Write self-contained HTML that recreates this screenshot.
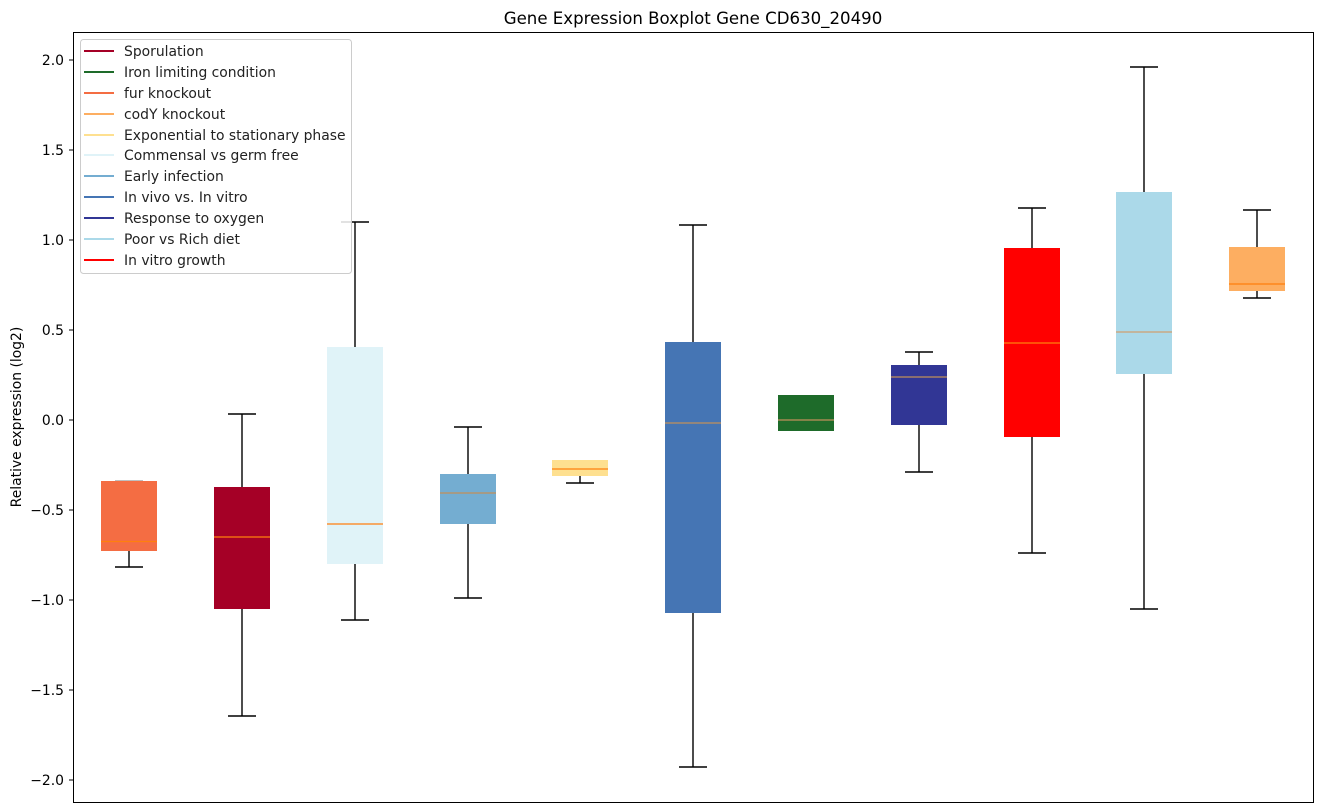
<!DOCTYPE html>
<html><head><meta charset="utf-8"><style>
html,body{margin:0;padding:0;background:#fff;}
svg{display:block;font-family:"DejaVu Sans","Liberation Sans",sans-serif;}
</style></head><body>
<svg width="1322" height="812" viewBox="0 0 1322 812" xmlns="http://www.w3.org/2000/svg">
<rect width="1322" height="812" fill="#fff"/>
<text x="693" y="24" font-size="16.6" text-anchor="middle" fill="#000">Gene Expression Boxplot Gene CD630_20490</text>
<text transform="translate(21,417) rotate(-90)" font-size="13.9" text-anchor="middle" fill="#000">Relative expression (log2)</text>
<g font-size="13.9" fill="#000" text-anchor="end">
<text x="64" y="65">2.0</text>
<text x="64" y="155">1.5</text>
<text x="64" y="245">1.0</text>
<text x="64" y="335">0.5</text>
<text x="64" y="425">0.0</text>
<text x="64" y="515">−0.5</text>
<text x="64" y="605">−1.0</text>
<text x="64" y="695">−1.5</text>
<text x="64" y="785">−2.0</text>
</g>
<g stroke="#000" stroke-width="1">
<line x1="69" y1="60" x2="73" y2="60"/><line x1="69" y1="150" x2="73" y2="150"/><line x1="69" y1="240" x2="73" y2="240"/><line x1="69" y1="330" x2="73" y2="330"/><line x1="69" y1="420" x2="73" y2="420"/><line x1="69" y1="510" x2="73" y2="510"/><line x1="69" y1="600" x2="73" y2="600"/><line x1="69" y1="690" x2="73" y2="690"/><line x1="69" y1="780" x2="73" y2="780"/>
</g>
<g stroke="#000" stroke-width="1.4">
<line x1="129" y1="551" x2="129" y2="567"/><line x1="115" y1="567" x2="143" y2="567"/><line x1="115" y1="481" x2="143" y2="481" stroke="#aaa"/>
<line x1="242" y1="414" x2="242" y2="487"/><line x1="242" y1="609" x2="242" y2="716"/><line x1="228" y1="414" x2="256" y2="414"/><line x1="228" y1="716" x2="256" y2="716"/>
<line x1="355" y1="222" x2="355" y2="347"/><line x1="355" y1="564" x2="355" y2="620"/><line x1="341" y1="222" x2="369" y2="222"/><line x1="341" y1="620" x2="369" y2="620"/>
<line x1="468" y1="427" x2="468" y2="474"/><line x1="468" y1="524" x2="468" y2="598"/><line x1="454" y1="427" x2="482" y2="427"/><line x1="454" y1="598" x2="482" y2="598"/>
<line x1="580" y1="476" x2="580" y2="483"/><line x1="566" y1="483" x2="594" y2="483"/>
<line x1="693" y1="225" x2="693" y2="342"/><line x1="693" y1="613" x2="693" y2="767"/><line x1="679" y1="225" x2="707" y2="225"/><line x1="679" y1="767" x2="707" y2="767"/>
<line x1="919" y1="352" x2="919" y2="365"/><line x1="919" y1="425" x2="919" y2="472"/><line x1="905" y1="352" x2="933" y2="352"/><line x1="905" y1="472" x2="933" y2="472"/>
<line x1="1032" y1="208" x2="1032" y2="248"/><line x1="1032" y1="437" x2="1032" y2="553"/><line x1="1018" y1="208" x2="1046" y2="208"/><line x1="1018" y1="553" x2="1046" y2="553"/>
<line x1="1144" y1="67" x2="1144" y2="192"/><line x1="1144" y1="374" x2="1144" y2="609"/><line x1="1130" y1="67" x2="1158" y2="67"/><line x1="1130" y1="609" x2="1158" y2="609"/>
<line x1="1257" y1="210" x2="1257" y2="247"/><line x1="1257" y1="291" x2="1257" y2="298"/><line x1="1243" y1="210" x2="1271" y2="210"/><line x1="1243" y1="298" x2="1271" y2="298"/>
</g>
<g>
<rect x="101" y="481" width="56" height="70" fill="#f46d43"/>
<rect x="214" y="487" width="56" height="122" fill="#a50026"/>
<rect x="327" y="347" width="56" height="217" fill="#e0f3f8"/>
<rect x="440" y="474" width="56" height="50" fill="#74add1"/>
<rect x="552" y="460" width="56" height="16" fill="#fee090"/>
<rect x="665" y="342" width="56" height="271" fill="#4575b4"/>
<rect x="778" y="395" width="56" height="36" fill="#1e6b2a"/>
<rect x="891" y="365" width="56" height="60" fill="#313695"/>
<rect x="1004" y="248" width="56" height="189" fill="#ff0000"/>
<rect x="1116" y="192" width="56" height="182" fill="#abd9e9"/>
<rect x="1229" y="247" width="56" height="44" fill="#fdae61"/>
</g>
<g stroke-width="1.2">
<line x1="101" y1="541.5" x2="157" y2="541.5" stroke="#ff7f0e"/>
<line x1="214" y1="537" x2="270" y2="537" stroke="#ff7f0e"/>
<line x1="327" y1="524" x2="383" y2="524" stroke="#ff7f0e"/>
<line x1="440" y1="493" x2="496" y2="493" stroke="#c0905a"/>
<line x1="552" y1="469" x2="608" y2="469" stroke="#ff7f0e"/>
<line x1="665" y1="423" x2="721" y2="423" stroke="#c0905a"/>
<line x1="778" y1="420" x2="834" y2="420" stroke="#c0905a"/>
<line x1="891" y1="377" x2="947" y2="377" stroke="#c0905a"/>
<line x1="1004" y1="343" x2="1060" y2="343" stroke="#ff7f0e"/>
<line x1="1116" y1="332" x2="1172" y2="332" stroke="#d0a070"/>
<line x1="1229" y1="284" x2="1285" y2="284" stroke="#ff7f0e"/>
</g>
<rect x="73.5" y="32.5" width="1240" height="770" fill="none" stroke="#000" stroke-width="1"/>
<rect x="80.5" y="39.5" width="271" height="234" rx="3" fill="#fff" fill-opacity="0.85" stroke="#ccc"/>
<g stroke-width="2">
<line x1="84" y1="51" x2="114" y2="51" stroke="#a50026"/>
<line x1="84" y1="72" x2="114" y2="72" stroke="#1e6b2a"/>
<line x1="84" y1="93" x2="114" y2="93" stroke="#f46d43"/>
<line x1="84" y1="114" x2="114" y2="114" stroke="#fdae61"/>
<line x1="84" y1="135" x2="114" y2="135" stroke="#fee090"/>
<line x1="84" y1="155" x2="114" y2="155" stroke="#e0f3f8"/>
<line x1="84" y1="176" x2="114" y2="176" stroke="#74add1"/>
<line x1="84" y1="197" x2="114" y2="197" stroke="#4575b4"/>
<line x1="84" y1="218" x2="114" y2="218" stroke="#313695"/>
<line x1="84" y1="239" x2="114" y2="239" stroke="#abd9e9"/>
<line x1="84" y1="260" x2="114" y2="260" stroke="#ff0000"/>
</g>
<g font-size="13.9" fill="#222">
<text x="124" y="56">Sporulation</text>
<text x="124" y="77">Iron limiting condition</text>
<text x="124" y="98">fur knockout</text>
<text x="124" y="119">codY knockout</text>
<text x="124" y="140">Exponential to stationary phase</text>
<text x="124" y="160">Commensal vs germ free</text>
<text x="124" y="181">Early infection</text>
<text x="124" y="202">In vivo vs. In vitro</text>
<text x="124" y="223">Response to oxygen</text>
<text x="124" y="244">Poor vs Rich diet</text>
<text x="124" y="265">In vitro growth</text>
</g>
</svg>
</body></html>
